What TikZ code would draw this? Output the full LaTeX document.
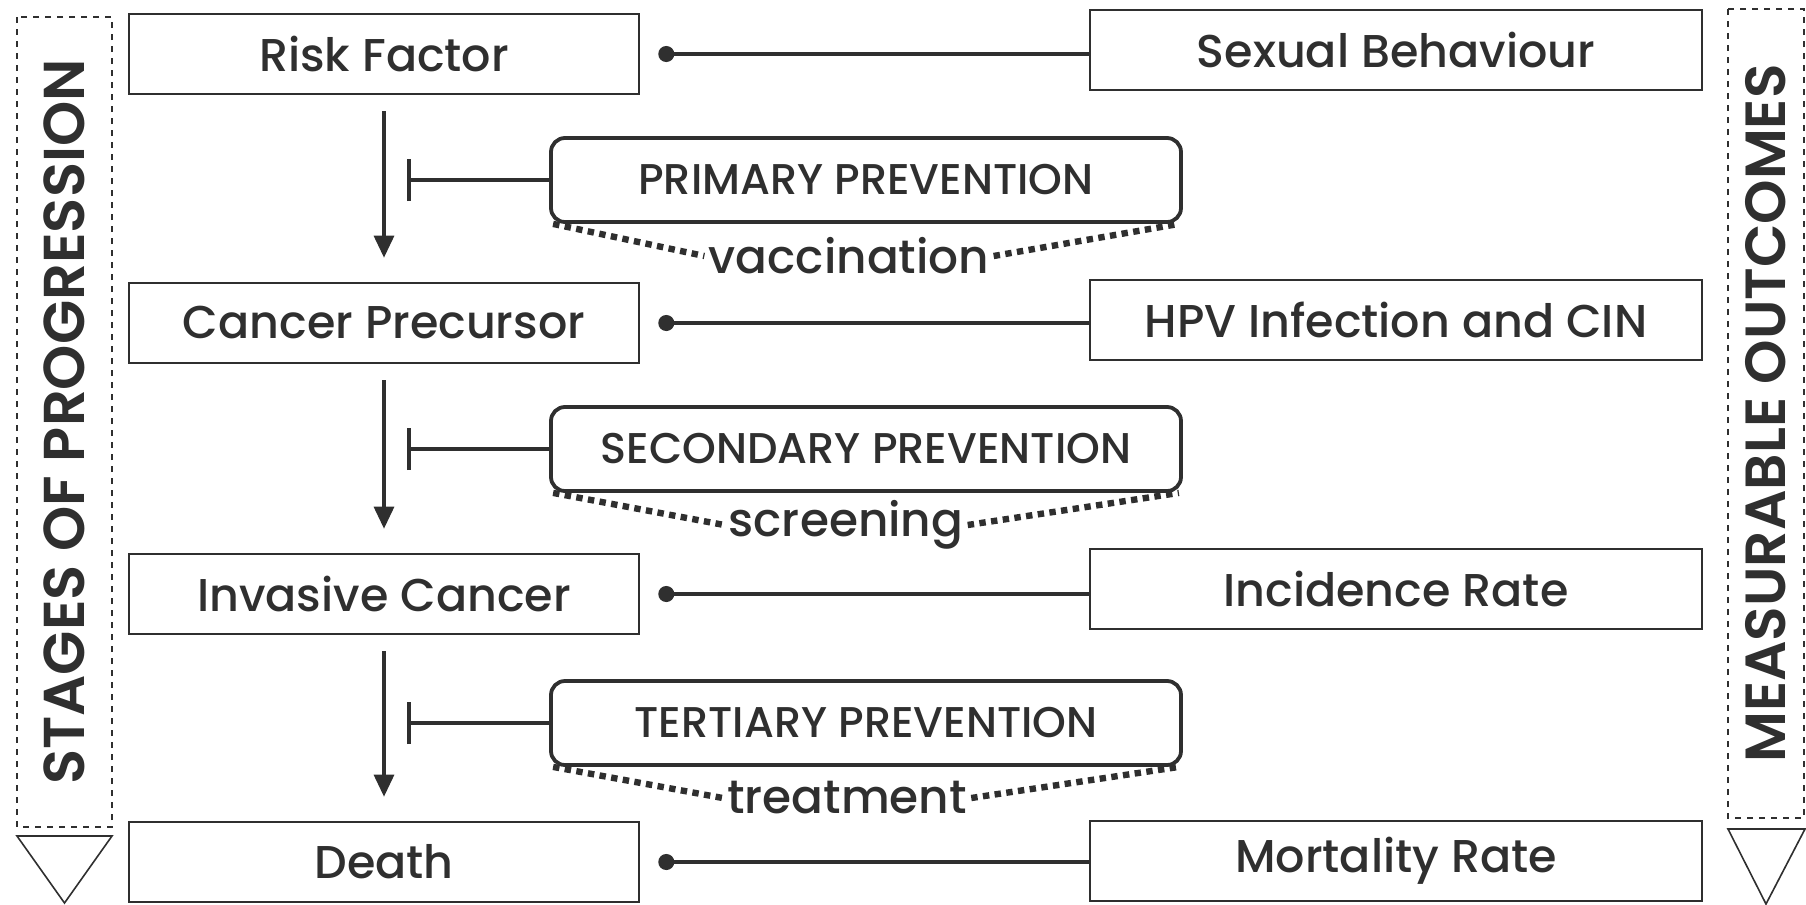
\documentclass[tikz,border=0pt]{standalone}
\usepackage{fontspec}
\setmainfont{Poppins}[UprightFont={* Medium}, BoldFont={* SemiBold}]
\usetikzlibrary{arrows.meta, calc, positioning}
\definecolor{ink}{HTML}{2F2F2F}
\tikzset{
    stage/.style={draw=ink, line width=1.3pt, minimum width=255pt, minimum height=40pt,
        text=ink, font=\fontsize{23}{26}\selectfont},
    outcome/.style={stage, minimum width=306pt},
    prevent/.style={draw=ink, line width=1.9pt, rounded corners=7pt, minimum width=315pt,
        minimum height=42pt, text=ink, font=\fontsize{21.5}{24}\selectfont},
    method/.style={text=ink, font=\fontsize{23.5}{26}\selectfont, inner sep=2pt},
    sidebar/.style={draw=ink, dashed, line width=0.7pt, text=ink,
        font=\fontsize{28.8}{32}\selectfont\bfseries},
    tri/.style={draw=ink, line width=0.8pt},
    progress/.style={-{Triangle[length=11pt, width=10pt]}, draw=ink, line width=1.6pt},
    inhibit/.style={-{Bar[width=21pt, line width=1.8pt]}, draw=ink, line width=1.7pt},
    link/.style={{Circle[length=8pt]}-, draw=ink, line width=1.9pt, shorten <=9pt},
    dots/.style={draw=ink, line width=3.2pt, dash pattern=on 3.2pt off 2.7pt}
}

\begin{document}
\begin{tikzpicture}[x=0.5pt, y=-0.5pt]
    \useasboundingbox (0,0) rectangle (1806,905);

    % side bars
    \node[sidebar, rotate=90, minimum width=405pt, minimum height=47.5pt] (stages) at (64.5,422) {STAGES OF PROGRESSION};
    \draw[tri] (17,836) -- (112,836) -- (64.5,903) -- cycle;
    \node[sidebar, rotate=90, minimum width=404.5pt, minimum height=38pt, font=\fontsize{28.3}{32}\selectfont\bfseries] (outcomes) at (1766,413.5) {MEASURABLE OUTCOMES};
    \draw[tri] (1728,829) -- (1805,829) -- (1766,904) -- cycle;

    % stages of progression
    \node[stage] (risk) at (384,54) {Risk Factor};
    \node[stage] (precursor) at (384,323) {Cancer Precursor};
    \node[stage] (invasive) at (384,594) {Invasive Cancer};
    \node[stage] (death) at (384,862) {Death};

    % measurable outcomes
    \node[outcome] (sexual) at (1396,50) {Sexual Behaviour};
    \node[outcome] (hpv) at (1396,320) {HPV Infection and CIN};
    \node[outcome] (incidence) at (1396,589) {Incidence Rate};
    \node[outcome] (mortality) at (1396,861) {Mortality Rate};

    % prevention
    \node[prevent] (primary) at (866,180) {PRIMARY PREVENTION};
    \node[prevent] (secondary) at (866,449) {SECONDARY PREVENTION};
    \node[prevent] (tertiary) at (866,723) {TERTIARY PREVENTION};
    \node[method] (vaccination) at (849,256) {vaccination};
    \node[method] (screening) at (846,525) {screening};
    \node[method] (treatment) at (847,798) {treatment};

    \foreach \a/\b in {risk/precursor,precursor/invasive,invasive/death}{
        \draw[progress, shorten <=8pt, shorten >=12pt] (\a.south) -- (\b.north);
    }
    \foreach \p/\m in {primary/vaccination,secondary/screening,tertiary/treatment}{
        \draw[inhibit] (\p.west) -- ($(\p.west)+(-142,0)$);
        \draw[dots] ([xshift=2pt]\p.south west) -- (\m.west);
        \draw[dots] (\m.east) -- ([xshift=-2pt]\p.south east);
    }
    \foreach \s/\o in {risk/sexual,precursor/hpv,invasive/incidence,death/mortality}{
        \draw[link] (\s.east) -- (\s.east -| \o.west);
    }
\end{tikzpicture}
\end{document}
